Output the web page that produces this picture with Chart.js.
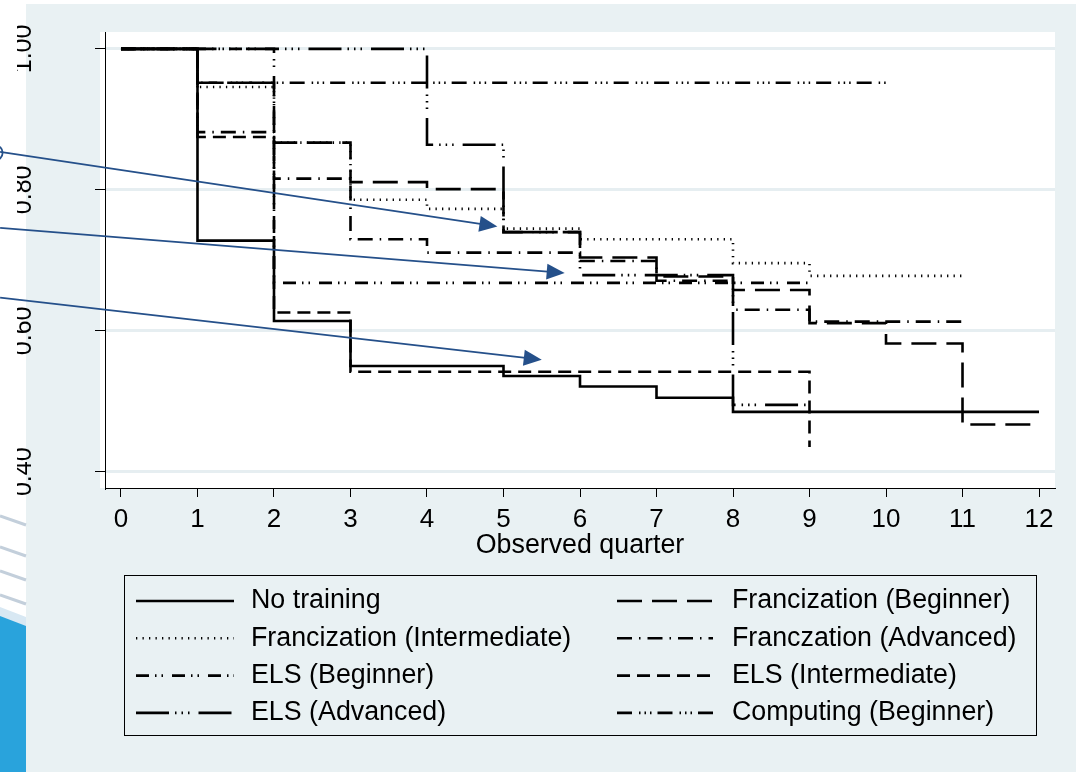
<!DOCTYPE html>
<html>
<head>
<meta charset="utf-8">
<script src="https://cdn.jsdelivr.net/npm/chart.js@4.4.1/dist/chart.umd.min.js"></script>
<style>
  html, body { margin: 0; padding: 0; background: #fff; }
  canvas { display: block; }
</style>
</head>
<body>
<canvas id="kmChart" width="1076" height="772"></canvas>
<script>
// Observed quarters (x axis)
var quarters = [0, 1, 2, 3, 4, 5, 6, 7, 8, 9, 10, 11, 12];

// Kaplan-Meier survival estimates, one value per quarter (null = group no longer observed)
var noTraining      = [1.000, 0.728, 0.614, 0.550, 0.550, 0.536, 0.521, 0.505, 0.485, 0.485, 0.485, 0.485, 0.485];
var frBeginner      = [1.000, 0.952, 0.867, 0.811, 0.801, 0.740, 0.704, 0.677, 0.658, 0.611, 0.582, 0.467, 0.467];
var frIntermediate  = [1.000, 0.946, 0.867, 0.786, 0.773, 0.745, 0.730, 0.730, 0.696, 0.678, 0.678, 0.678, null];
var frAdvanced      = [1.000, 0.882, 0.816, 0.730, 0.711, 0.711, 0.699, 0.671, 0.630, 0.613, 0.613, 0.613, null];
var elsBeginner     = [1.000, 1.000, 0.668, 0.668, 0.668, 0.668, 0.668, 0.668, 0.668, 0.668, null, null, null];
var elsIntermediate = [1.000, 0.875, 0.626, 0.542, 0.542, 0.542, 0.542, 0.542, 0.542, 0.435, null, null, null];
var elsAdvanced     = [1.000, 1.000, 1.000, 1.000, 0.864, 0.740, 0.679, 0.679, 0.495, 0.495, null, null, null];
var computing       = [1.000, 0.952, 0.952, 0.952, 0.952, 0.952, 0.952, 0.952, 0.952, 0.952, 0.952, null, null];

var seriesNames = ['No training', 'Francization (Beginner)', 'Francization (Intermediate)',
                   'Franczation (Advanced)', 'ELS (Beginner)', 'ELS (Intermediate)',
                   'ELS (Advanced)', 'Computing (Beginner)'];
var seriesValues = [noTraining, frBeginner, frIntermediate, frAdvanced,
                    elsBeginner, elsIntermediate, elsAdvanced, computing];

// Tick labels
var xTicks = [0, 1, 2, 3, 4, 5, 6, 7, 8, 9, 10, 11, 12];
var yTicks = [0.40, 0.60, 0.80, 1.00];
var yTickLabels = ['0.40', '0.60', '0.80', '1.00'];

// Slide arrows (tail -> head), in data units
var arrowTails = [[-1.58, 0.854], [-1.58, 0.746], [-1.58, 0.647]];
var arrowHeads = [[4.92, 0.748], [5.80, 0.682], [5.50, 0.559]];

// Stata-like line patterns
var dashPatterns = [
    [],
    [25, 10],
    [1.3, 5.2],
    [15, 7, 1.5, 7],
    [13, 6, 1.5, 5, 1.5, 9],
    [13, 7],
    [33, 6, 1.5, 5, 1.5, 5, 1.5, 9],
    [15, 7, 1.5, 4, 1.5, 4, 1.5, 6]
];

Chart.defaults.font.family = '"Liberation Sans", Arial, sans-serif';

var datasets = seriesValues.map(function (vals, i) {
    return {
        label: seriesNames[i],
        data: quarters.map(function (q, k) { return { x: q, y: vals[k] }; })
                      .filter(function (p) { return p.y !== null; }),
        borderColor: '#000',
        borderWidth: 2.6,
        borderDash: dashPatterns[i],
        borderCapStyle: 'butt',
        stepped: true,
        pointRadius: 0,
        fill: false
    };
});

// Background panel, custom two-column legend and the slide's arrows
var slidePlugin = {
    id: 'slide',
    beforeDraw: function (chart) {
        var ctx = chart.ctx, a = chart.chartArea;
        ctx.save();
        ctx.fillStyle = '#e9f1f3';
        ctx.fillRect(26, 4, chart.width - 26, chart.height - 4);
        ctx.fillStyle = '#fff';
        ctx.fillRect(a.left - 5, a.top, a.right - a.left + 5, a.bottom - a.top);
        ctx.restore();
    },
    afterDraw: function (chart) {
        var ctx = chart.ctx;
        var xs = chart.scales.x, ys = chart.scales.y;
        ctx.save();

        // left edge of the slide cuts the y labels
        ctx.fillStyle = '#fff';
        ctx.fillRect(0, 0, 17, 505);

        // slide decoration, bottom left
        ctx.strokeStyle = '#c3cfdb';
        ctx.lineWidth = 3;
        [516, 547, 571, 595].forEach(function (y) {
            ctx.beginPath(); ctx.moveTo(0, y); ctx.lineTo(26, y + 9); ctx.stroke();
        });
        ctx.fillStyle = '#d8e8f3';
        ctx.beginPath(); ctx.moveTo(0, 607); ctx.lineTo(26, 617); ctx.lineTo(26, 627); ctx.lineTo(0, 617); ctx.fill();
        ctx.fillStyle = '#29a3dc';
        ctx.beginPath(); ctx.moveTo(0, 616); ctx.lineTo(26, 626); ctx.lineTo(26, 772); ctx.lineTo(0, 772); ctx.fill();

        // legend
        ctx.strokeStyle = '#000';
        ctx.lineWidth = 1;
        ctx.strokeRect(124.5, 575.5, 912, 160);
        ctx.font = '26.8px "Liberation Sans", Arial, sans-serif';
        ctx.textBaseline = 'middle';
        ctx.fillStyle = '#000';
        chart.data.datasets.forEach(function (d, i) {
            var col = i % 2, row = Math.floor(i / 2);
            var y = 601 + row * 37.3;
            var x0 = col ? 617 : 136, x1 = col ? 713 : 234, tx = col ? 732 : 251;
            ctx.lineWidth = d.borderWidth;
            ctx.setLineDash(d.borderDash);
            ctx.beginPath(); ctx.moveTo(x0, y); ctx.lineTo(x1, y); ctx.stroke();
            ctx.setLineDash([]);
            ctx.fillText(d.label, tx, y);
        });

        // arrows
        ctx.strokeStyle = '#25508a';
        ctx.fillStyle = '#25508a';
        ctx.lineWidth = 1.8;
        arrowTails.forEach(function (t, i) {
            var h = arrowHeads[i];
            var tx = xs.getPixelForValue(t[0]), ty = ys.getPixelForValue(t[1]);
            var hx = xs.getPixelForValue(h[0]), hy = ys.getPixelForValue(h[1]);
            var len = Math.hypot(hx - tx, hy - ty);
            var ux = (hx - tx) / len, uy = (hy - ty) / len;
            ctx.beginPath(); ctx.moveTo(tx, ty); ctx.lineTo(hx - ux * 14, hy - uy * 14); ctx.stroke();
            ctx.beginPath();
            ctx.moveTo(hx, hy);
            ctx.lineTo(hx - ux * 18 - uy * 8, hy - uy * 18 + ux * 8);
            ctx.lineTo(hx - ux * 18 + uy * 8, hy - uy * 18 - ux * 8);
            ctx.closePath();
            ctx.fill();
            if (i === 0) {
                ctx.beginPath(); ctx.arc(tx - 5, ty + 1, 7.5, 0, Math.PI * 2); ctx.stroke();
            }
        });
        ctx.restore();
    }
};

var ctx = document.getElementById('kmChart').getContext('2d');
var kmChart = new Chart(ctx, {
    type: 'line',
    data: { datasets: datasets },
    options: {
        responsive: false,
        animation: false,
        events: [],
        layout: { padding: { left: 0, top: 32, right: 21, bottom: 204 } },
        plugins: {
            legend: { display: false },
            tooltip: { enabled: false }
        },
        scales: {
            x: {
                type: 'linear',
                min: -0.209,
                max: 12.209,
                afterBuildTicks: function (s) { s.ticks = xTicks.map(function (v) { return { value: v }; }); },
                afterFit: function (s) { s.height = 80; s.paddingLeft = 0; s.paddingRight = 0; },
                grid: { drawOnChartArea: false, tickLength: 9, tickColor: '#000', tickWidth: 1 },
                border: { color: '#000', width: 1 },
                ticks: {
                    color: '#000', font: { size: 26 }, padding: 7, autoSkip: false, maxRotation: 0,
                    callback: function (v) { return String(v); }
                },
                title: {
                    display: true, text: 'Observed quarter', color: '#000',
                    font: { size: 26.8, lineHeight: 1.2 }, padding: { top: 0, bottom: 6 }
                }
            },
            y: {
                min: 0.377,
                max: 1.024,
                afterBuildTicks: function (s) { s.ticks = yTicks.map(function (v) { return { value: v }; }); },
                afterFit: function (s) { s.width = 105; s.paddingTop = 0; s.paddingBottom = 0; },
                grid: { color: '#e6eef1', lineWidth: 3, tickLength: 10, tickColor: '#000', tickWidth: 1 },
                border: { color: '#000', width: 1 },
                ticks: {
                    color: '#000', font: { size: 25 }, minRotation: 90, maxRotation: 90,
                    crossAlign: 'center', padding: 47, autoSkip: false,
                    callback: function (v) { return yTickLabels[yTicks.indexOf(v)]; }
                }
            }
        }
    },
    plugins: [slidePlugin]
});
</script>
</body>
</html>
